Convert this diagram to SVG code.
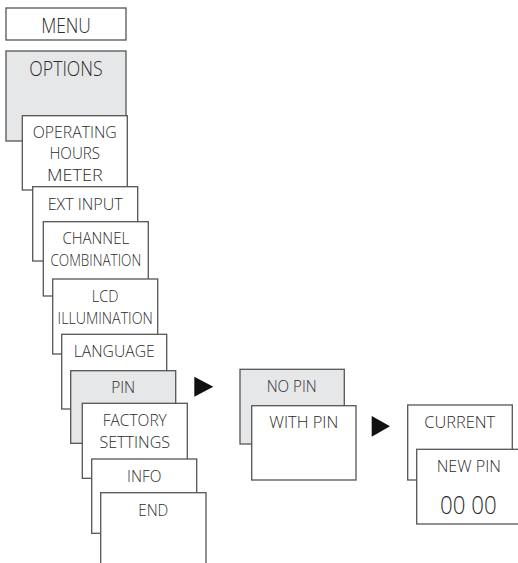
<svg xmlns="http://www.w3.org/2000/svg" width="518" height="563" viewBox="0 0 518 563">
<style>
.b{fill:#fff;stroke:#555;stroke-width:1.3}
.g{fill:#e6e7e9;stroke:#555;stroke-width:1.3}
text{font-family:"Open Sans","DejaVu Sans",sans-serif;font-weight:300;font-size:16.8px;fill:#2b2b2b;text-anchor:middle}
.l{font-size:20px}
.xl{font-size:25px}
.arr{fill:#111}
</style>
<rect width="518" height="563" fill="#fff"/>
<g id="menu"><rect class="b" x="6" y="8" width="120" height="32"/><text class="l" x="66" y="32.7" textLength="49.7" lengthAdjust="spacingAndGlyphs">MENU</text></g>
<g id="options"><rect class="g" x="6" y="51" width="120" height="90"/><text class="l" x="66" y="76" textLength="73.3" lengthAdjust="spacingAndGlyphs">OPTIONS</text></g>
<g id="operating"><rect class="b" x="22.3" y="115.7" width="105" height="74.3"/><text x="74.8" y="137.7" textLength="84" lengthAdjust="spacingAndGlyphs">OPERATING</text><text x="74.8" y="159.3" textLength="50.7" lengthAdjust="spacingAndGlyphs">HOURS</text><text x="74.8" y="181.3" textLength="55.7" lengthAdjust="spacingAndGlyphs">METER</text></g>
<g id="extinput"><rect class="b" x="32.7" y="186.7" width="105" height="74.3"/><text x="85.2" y="210" textLength="75" lengthAdjust="spacingAndGlyphs">EXT INPUT</text></g>
<g id="channel"><rect class="b" x="43.3" y="221.7" width="105" height="74.3"/><text x="95.8" y="244" textLength="66.7" lengthAdjust="spacingAndGlyphs">CHANNEL</text><text x="95.8" y="265.7" textLength="90.7" lengthAdjust="spacingAndGlyphs">COMBINATION</text></g>
<g id="lcd"><rect class="b" x="52.7" y="279" width="105" height="75"/><text x="105.2" y="301.7" textLength="26.7" lengthAdjust="spacingAndGlyphs">LCD</text><text x="105.2" y="324" textLength="95.3" lengthAdjust="spacingAndGlyphs">ILLUMINATION</text></g>
<g id="language"><rect class="b" x="61.7" y="334.3" width="105" height="74.7"/><text x="114.2" y="356.7" textLength="81" lengthAdjust="spacingAndGlyphs">LANGUAGE</text></g>
<g id="pin"><rect class="g" x="70.7" y="370.7" width="105" height="72.6"/><text x="123.2" y="392.7" textLength="24" lengthAdjust="spacingAndGlyphs">PIN</text></g>
<g id="factory"><rect class="b" x="82.3" y="403.3" width="105" height="75"/><text x="134.8" y="426.2" textLength="64" lengthAdjust="spacingAndGlyphs">FACTORY</text><text x="134.8" y="448" textLength="70.7" lengthAdjust="spacingAndGlyphs">SETTINGS</text></g>
<g id="info"><rect class="b" x="91.7" y="459" width="105" height="74.3"/><text x="144.2" y="481.7" textLength="34.3" lengthAdjust="spacingAndGlyphs">INFO</text></g>
<g id="end"><rect class="b" x="100.7" y="492.7" width="105.3" height="80"/><text x="153.3" y="515.7" textLength="30" lengthAdjust="spacingAndGlyphs">END</text></g>
<g id="nopin"><rect class="g" x="240" y="369.3" width="104.3" height="74.7"/><text x="291.7" y="391.7" textLength="50" lengthAdjust="spacingAndGlyphs">NO PIN</text></g>
<g id="withpin"><rect class="b" x="251.7" y="405.7" width="104.3" height="74.3"/><text x="303.8" y="428.3" textLength="69" lengthAdjust="spacingAndGlyphs">WITH PIN</text></g>
<g id="current"><rect class="b" x="407.7" y="405" width="104.6" height="75"/><text x="459.7" y="427.7" textLength="70.7" lengthAdjust="spacingAndGlyphs">CURRENT</text></g>
<g id="newpin"><rect class="b" x="416.7" y="449.3" width="105" height="74.7"/><text x="468.8" y="472.3" textLength="64.3" lengthAdjust="spacingAndGlyphs">NEW PIN</text><text class="xl" x="468.3" y="514" textLength="56.7" lengthAdjust="spacingAndGlyphs">00 00</text></g>
<g id="connectors">
<polygon class="arr" points="194.3,376.7 213.3,386.7 194.3,396.7"/>
<polygon class="arr" points="371.7,416 390,426.3 371.7,436.7"/>
</g>
</svg>
